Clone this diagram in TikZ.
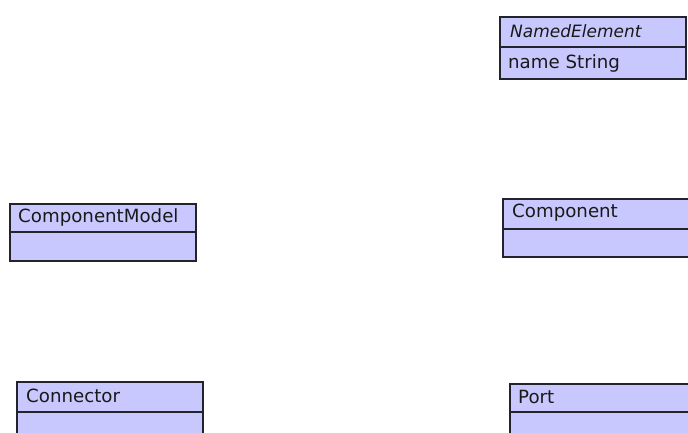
\documentclass[tikz,border=0pt]{standalone}
\usepackage{fontspec}
\setmainfont{DejaVu Sans}
\definecolor{classfill}{RGB}{200,200,255}
\definecolor{classline}{RGB}{35,35,45}

\begin{document}
\begin{tikzpicture}[x=1pt, y=-1pt,
        classbox/.style={draw=classline, line width=1.3pt, fill=classfill},
        classtext/.style={anchor=west, inner sep=0pt, text=black!90, font=\fontsize{18.2}{21}\selectfont}]
        \clip (0,0) rectangle (688,433);
        \fill[white] (0,0) rectangle (688,433);

        %%-NamedElement
        \draw[classbox] (500,17) rectangle (686,47);
        \draw[classbox] (500,47) rectangle (686,79);
        \node[classtext] (namedelement) at (510,31) {\fontsize{17}{20}\selectfont\itshape NamedElement};
        \node[classtext] (nameattr) at (508,63) {name String};

        %%-ComponentModel
        \draw[classbox] (10,204) rectangle (196,232);
        \draw[classbox] (10,232) rectangle (196,261);
        \node[classtext] (componentmodel) at (18,217) {ComponentModel};

        %%-Component
        \draw[classbox] (503,199) rectangle (700,229);
        \draw[classbox] (503,229) rectangle (700,257);
        \node[classtext] (component) at (512,213) {Component};

        %% Connector
        \draw[classbox] (17,382) rectangle (203,412);
        \draw[classbox] (17,412) rectangle (203,445);
        \node[classtext] (connector) at (26,396) {Connector};

        %% Port
        \draw[classbox] (510,384) rectangle (700,412);
        \draw[classbox] (510,412) rectangle (700,445);
        \node[classtext] (port) at (518,397) {Port};

\end{tikzpicture}
\end{document}
